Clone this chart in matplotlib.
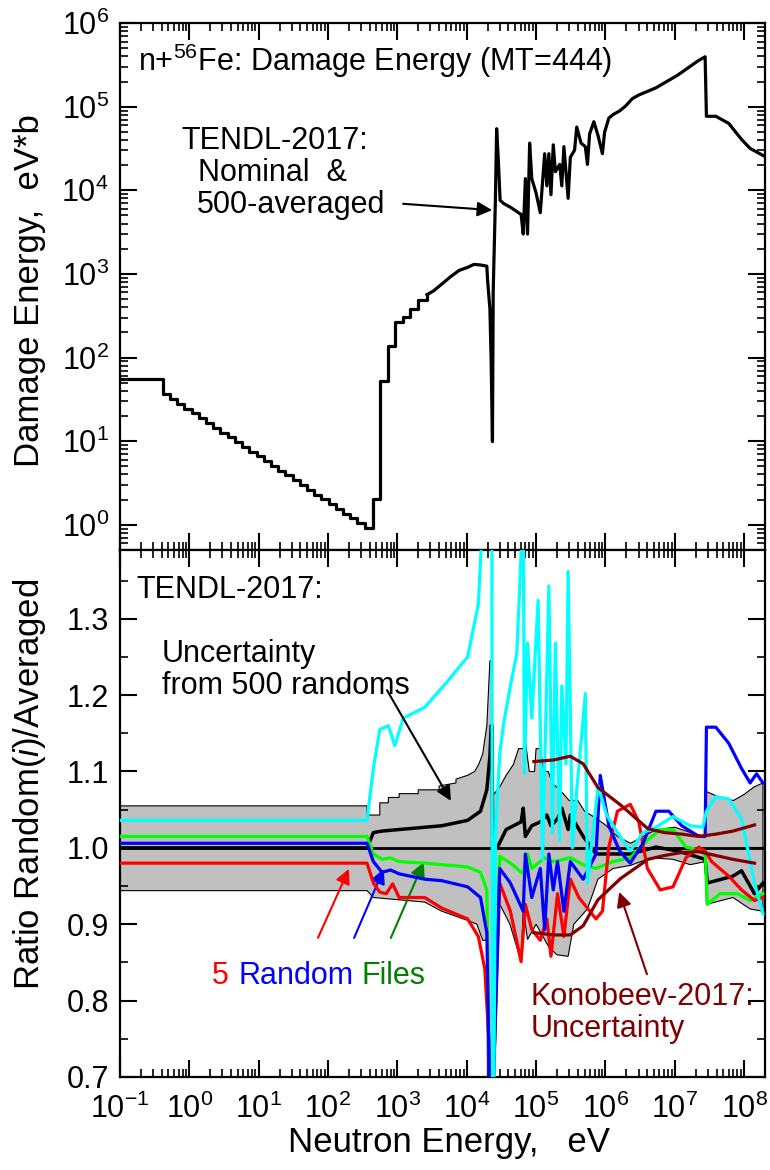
import numpy as np
import matplotlib.pyplot as plt
from matplotlib.ticker import LogLocator, MultipleLocator, NullFormatter

plt.rcParams['font.family'] = ['Liberation Sans', 'DejaVu Sans']
plt.rcParams['mathtext.fontset'] = 'custom'
plt.rcParams['mathtext.rm'] = 'Liberation Sans'
plt.rcParams['mathtext.it'] = 'Liberation Sans:italic'

# ---- top panel: damage energy (eV*b), staircase part then pointwise part
stair_E = [0.1, 0.414, 0.526, 0.668, 0.849, 1.08, 1.37, 1.74, 2.21, 2.81, 3.57, 4.54,
           5.77, 7.33, 9.31, 11.8, 15.0, 19.1, 24.3, 30.8, 39.2, 49.8, 63.2, 80.4,
           102, 130, 165, 209, 266, 338, 451, 558, 742, 918, 1220, 1510, 2010, 2670]
stair_D = [54.7, 36.3, 31.8, 27.9, 24.5, 21.5, 18.8, 16.5, 14.5, 12.7, 11.1, 9.8,
           8.6, 7.5, 6.6, 5.8, 5.1, 4.45, 3.9, 3.4, 3.0, 2.63, 2.3, 2.02,
           1.77, 1.56, 1.36, 1.20, 1.05, 0.92, 2.05, 52, 136, 263, 309, 383, 487, 566]

dam_E = [2670, 3300, 4390, 5830, 7740, 10300, 12700, 15800, 19500, 20000, 21600, 22500,
         23500, 24100, 25900, 27000, 28600, 30300, 34400, 42600, 60800, 65300, 70100,
         75300, 80800, 86700, 1.0e5, 1.15e5, 1.33e5, 1.43e5, 1.53e5, 1.64e5, 1.77e5,
         1.90e5, 2.19e5, 2.35e5, 2.52e5, 2.90e5, 3.12e5, 3.59e5, 3.86e5, 4.45e5,
         5.13e5, 5.51e5, 5.91e5, 6.81e5, 7.85e5, 9.05e5, 9.72e5, 1.12e6, 1.29e6,
         1.60e6, 1.98e6, 2.45e6, 3.03e6, 5.35e6, 1.09e7, 2.22e7, 2.74e7, 2.86e7,
         3.91e7, 6.00e7, 9.18e7, 1.22e8, 1.87e8]
dam_D = [566, 624, 759, 925, 1100, 1200, 1300, 1280, 1240, 838, 382, 92,
         9.9, 624, 7600, 54500, 22500, 7600, 6920, 6280, 5150, 3000, 13800,
         3000, 36700, 13800, 9290, 5400, 27400, 11300, 27400, 8850, 35000,
         16700, 20400, 11300, 33300, 8020, 24800, 30200, 57100, 36700,
         33300, 20400, 47000, 66200, 44700, 27400, 49300, 73100, 80500,
         88900, 1.03e5, 1.25e5, 1.38e5, 1.68e5, 2.37e5, 3.58e5, 3.95e5, 76800,
         76800, 63100, 40600, 31700, 26100]

# ---- bottom panel: ratios random(i)/averaged
band_up_E = [0.1, 365, 365, 558, 558, 742, 742, 1060, 1060, 2000, 2000, 4000, 4000, 7000,
             7000, 10300, 13000, 15000, 17000, 19500, 21600, 23300, 23400, 24500, 30000,
             37000, 47000, 56000, 65000, 70000, 80000, 95000, 1.0e5, 1.15e5, 1.3e5,
             1.5e5, 1.7e5, 2.2e5, 3e5, 4e5, 5e5, 7e5, 1e6, 1.5e6, 2.3e6, 3.5e6, 5.4e6,
             1e7, 1.7e7, 2.74e7, 2.8e7, 4.5e7, 7e7, 1e8, 1.4e8, 1.87e8]
band_up = [1.055, 1.055, 1.043, 1.043, 1.059, 1.059, 1.066, 1.066, 1.071, 1.071, 1.076,
           1.076, 1.081, 1.085, 1.090, 1.095, 1.100, 1.110, 1.123, 1.160, 1.245, 1.245,
           1.07, 1.07, 1.08, 1.095, 1.109, 1.13, 1.13, 1.14, 1.10, 1.10, 1.13, 1.13,
           1.10, 1.10, 1.085, 1.076, 1.062, 1.062, 1.048, 1.04, 1.03, 1.015, 1.006,
           1.015, 1.024, 1.027, 1.020, 1.015, 1.074, 1.066, 1.062, 1.070, 1.080, 1.085]
band_lo_E = [0.1, 365, 451, 1060, 2480, 4390, 10300, 14000, 17000, 19500, 20000, 24000,
             24500, 30000, 42000, 60800, 65300, 75300, 1.0e5, 1.53e5, 2.0e5, 2.9e5,
             3.5e5, 5.5e5, 7.8e5, 1.29e6, 2.28e6, 4.6e6, 9.45e6, 1.67e7, 2.74e7, 2.86e7,
             6.9e7, 1.22e8, 1.87e8]
band_lo = [0.944, 0.944, 0.935, 0.932, 0.929, 0.917, 0.905, 0.900, 0.879, 0.879, 0.65,
           0.65, 0.926, 0.926, 0.900, 0.851, 0.920, 0.880, 0.900, 0.870, 0.860, 0.858,
           0.900, 0.920, 0.959, 0.973, 0.977, 0.987, 0.985, 0.978, 0.982, 0.926,
           0.935, 0.920, 0.917]

mean_E = [0.1, 365, 451, 600, 1060, 4390, 10300, 15800, 19500, 21600, 22500, 23300,
          23600, 27800, 37000, 60800, 65300, 70100, 86700, 1.15e5, 1.43e5, 1.64e5,
          2.04e5, 2.35e5, 2.9e5, 3.12e5, 4.78e5, 7.31e5, 1.29e6, 2.28e6, 5.35e6,
          1.09e7, 2.74e7, 2.95e7, 6.9e7, 9.18e7, 1.41e8, 1.87e8]
mean_r = [1.0, 1.0, 1.020, 1.022, 1.024, 1.029, 1.036, 1.048, 1.076, 1.12, 1.16, 1.16,
          1.0, 1.001, 1.024, 1.034, 1.052, 1.015, 1.029, 1.034, 1.043, 1.029,
          1.038, 1.052, 1.024, 1.043, 1.015, 0.992, 0.992, 0.992, 1.001,
          0.996, 0.985, 0.954, 0.963, 0.970, 0.940, 0.954]

red_E = [0.1, 365, 451, 558, 692, 855, 1060, 2480, 4390, 10300, 14700, 18200, 20900,
         21600, 23500, 29900, 42600, 60800, 70100, 86700, 1.15e5, 1.43e5, 1.64e5,
         2.04e5, 2.52e5, 3.12e5, 4.14e5, 5.51e5, 7.31e5, 9.05e5, 1.12e6, 1.49e6,
         2.28e6, 3.03e6, 4.03e6, 6.17e6, 9.45e6, 1.45e7, 2.22e7, 2.74e7, 3.40e7,
         6.00e7, 9.18e7, 1.41e8, 1.87e8]
red_r = [0.980, 0.980, 0.954, 0.942, 0.940, 0.953, 0.935, 0.935, 0.921, 0.907, 0.884,
         0.842, 0.748, 0.65, 0.65, 0.954, 0.917, 0.851, 0.926, 0.893, 0.879, 0.907,
         0.858, 0.940, 0.884, 0.959, 0.935, 0.921, 0.907, 0.917, 1.001, 1.048,
         1.057, 1.034, 0.973, 0.945, 0.949, 0.987, 1.001, 0.996, 0.982,
         0.963, 0.945, 0.931, 0.935]

blue_E = [0.1, 365, 451, 600, 797, 1060, 2480, 4390, 10300, 15800, 19500, 21600, 23500,
          29900, 42600, 65300, 70100, 86700, 1.15e5, 1.33e5, 1.53e5, 1.77e5, 2.04e5,
          2.52e5, 3.12e5, 4.78e5, 7.31e5, 8.43e5, 1.12e6, 1.60e6, 2.28e6, 3.49e6,
          5.35e6, 8.20e6, 1.26e7, 2.22e7, 2.74e7, 2.86e7, 3.91e7, 6.00e7, 9.18e7,
          1.22e8, 1.51e8, 1.87e8]
blue_r = [1.006, 1.006, 0.982, 0.968, 0.971, 0.966, 0.959, 0.957, 0.949, 0.935, 0.889,
          0.65, 0.65, 0.973, 0.954, 0.917, 0.992, 0.935, 0.973, 0.893, 0.992, 0.945,
          0.982, 0.917, 0.982, 0.959, 0.992, 1.095, 1.029, 0.996, 0.980, 1.006,
          1.048, 1.048, 1.029, 1.015, 1.015, 1.158, 1.158, 1.137, 1.104,
          1.085, 1.097, 1.085]

green_E = [0.1, 365, 451, 600, 797, 1060, 2480, 10300, 15800, 19500, 21600, 23500,
           29900, 42600, 65300, 75300, 86700, 1.33e5, 1.77e5, 3.12e5, 4.78e5, 7.31e5,
           1.29e6, 2.28e6, 4.03e6, 6.17e6, 9.45e6, 1.45e7, 2.74e7, 2.95e7, 4.51e7,
           7.97e7, 1.22e8, 1.87e8]
green_r = [1.015, 1.015, 0.992, 0.985, 0.987, 0.982, 0.980, 0.975, 0.968, 0.945, 0.65,
           0.65, 0.989, 0.980, 0.966, 0.992, 0.973, 0.987, 0.982, 0.987, 0.978, 0.973,
           0.982, 0.987, 1.010, 1.024, 1.024, 1.001, 0.996, 0.926, 0.940,
           0.940, 0.931, 0.940]

cyan_E = [0.1, 365, 451, 558, 742, 918, 1220, 2480, 5060, 10300, 14700, 17400, 23000,
          23600, 24500, 26000, 29900, 34400, 42600, 52700, 65300, 68100, 75300, 86700,
          1.07e5, 1.24e5, 1.53e5, 1.72e5, 1.90e5, 2.19e5, 2.35e5, 2.70e5, 2.90e5,
          3.35e5, 3.86e5, 4.45e5, 5.13e5, 5.51e5, 6.34e5, 7.85e5, 1.04e6, 1.49e6,
          2.28e6, 3.49e6, 5.35e6, 9.45e6, 1.67e7, 2.55e7, 2.86e7, 3.91e7, 6.00e7,
          9.18e7, 1.41e8, 1.87e8]
cyan_r = [1.036, 1.036, 1.104, 1.155, 1.160, 1.134, 1.170, 1.184, 1.216, 1.250, 1.319,
          1.45, 1.45, 0.65, 0.65, 1.016, 1.123, 1.165, 1.212, 1.254, 1.45, 1.097,
          1.268, 1.170, 1.324, 0.985, 1.343, 1.020, 1.268, 1.010, 1.212, 1.110,
          1.362, 1.000, 1.076, 1.137, 1.202, 0.954, 1.006, 1.081, 1.043, 1.020,
          0.996, 1.020, 1.027, 1.041, 1.029, 1.027, 1.048, 1.067, 1.064,
          1.038, 0.954, 0.914]

kon_E = [93100, 1.77e5, 3.12e5, 4.78e5, 7.8e5, 1.66e6, 4.1e6, 7.1e6, 1.26e7, 2.22e7,
         3.91e7, 6.92e7, 1.41e8]
kon_hi = [1.113, 1.115, 1.120, 1.110, 1.079, 1.056, 1.025, 1.020, 1.018, 1.015,
          1.018, 1.022, 1.030]
kon_lo = [0.889, 0.886, 0.886, 0.898, 0.932, 0.960, 0.985, 0.990, 0.994, 0.995,
          0.990, 0.985, 0.980]

fig = plt.figure(figsize=(7.7, 11.7), dpi=100)
ax1 = fig.add_axes([0.1558, 0.5299, 0.8377, 0.4504])
ax2 = fig.add_axes([0.1558, 0.0795, 0.8377, 0.4504], sharex=ax1)

ax1.step(stair_E, stair_D, where='post', color='black', lw=2.3)
ax1.plot(dam_E, dam_D, color='black', lw=2.3)
ax1.set_yscale('log')
ax1.set_ylim(0.5, 1e6)

ax2.fill(np.concatenate([band_up_E, band_lo_E[::-1]]),
         np.concatenate([band_up, band_lo[::-1]]),
         facecolor='#c0c0c0', edgecolor='black', lw=0.8, zorder=1)
ax2.axhline(1.0, color='black', lw=2, zorder=2)
ax2.plot(mean_E, mean_r, color='black', lw=2.5, zorder=3)
ax2.plot(green_E, green_r, color='#00ff00', lw=2.3, zorder=4)
ax2.plot(red_E, red_r, color='#ff0000', lw=2.3, zorder=5)
ax2.plot(blue_E, blue_r, color='#0000ff', lw=2.3, zorder=6)
ax2.plot(cyan_E, cyan_r, color='#00ffff', lw=2.3, zorder=7)
ax2.plot(kon_E, kon_hi, color='#800000', lw=2.3, zorder=8)
ax2.plot(kon_E, kon_lo, color='#800000', lw=2.3, zorder=8)
ax2.set_ylim(0.7, 1.39)
ax2.set_xscale('log')
ax2.set_xlim(0.1, 2e8)

for ax in (ax1, ax2):
    ax.xaxis.set_major_locator(LogLocator(base=10, numticks=15))
    ax.xaxis.set_minor_locator(LogLocator(base=10, subs=np.arange(2, 10), numticks=15))
    ax.xaxis.set_minor_formatter(NullFormatter())
    ax.tick_params(which='both', direction='in', top=True, right=True, labelsize=22)
    ax.tick_params(which='major', length=12, width=1.5)
    ax.tick_params(which='minor', length=6, width=1.2)
    ax.tick_params(axis='x', pad=12)
    ax.tick_params(axis='y', pad=8)
    for s in ax.spines.values():
        s.set_linewidth(1.6)
ax1.tick_params(labelbottom=False)
ax1.yaxis.set_major_locator(LogLocator(base=10, numticks=10))
ax1.yaxis.set_minor_locator(LogLocator(base=10, subs=np.arange(2, 10), numticks=10))
ax1.yaxis.set_minor_formatter(NullFormatter())
ax2.yaxis.set_major_locator(MultipleLocator(0.1))
ax2.yaxis.set_minor_locator(MultipleLocator(0.05))
ax2.set_yticks([0.7, 0.8, 0.9, 1.0, 1.1, 1.2, 1.3])
ax2.set_yticklabels(['0.7', '0.8', '0.9', '1.0', '1.1', '1.2', '1.3'])

ax1.set_ylabel('Damage Energy,  eV*b', fontsize=25, va='center')
ax1.yaxis.set_label_coords(-0.14, 0.493)
ax2.set_ylabel('Ratio Random($\\it{i}$)/Averaged', fontsize=25, va='center')
ax2.yaxis.set_label_coords(-0.14, 0.556)
ax2.set_xlabel('Neutron Energy,   eV', fontsize=25, va='center')
ax2.xaxis.set_label_coords(0.51, -0.125)

fs = 22
ax1.text(0.028, 0.928, 'n+$^{56}$Fe: Damage Energy (MT=444)', transform=ax1.transAxes,
         fontsize=fs, va='center')
ax1.text(0.095, 0.776, 'TENDL-2017:', transform=ax1.transAxes, fontsize=fs, va='center')
ax1.text(0.121, 0.715, 'Nominal  &', transform=ax1.transAxes, fontsize=fs, va='center')
ax1.text(0.119, 0.655, '500-averaged', transform=ax1.transAxes, fontsize=fs, va='center')
arrow = dict(arrowstyle='-|>', lw=1.5, mutation_scale=22, color='black',
             shrinkA=0, shrinkB=0)
ax1.annotate('', xy=(0.577, 0.645), xytext=(0.439, 0.657), xycoords='axes fraction',
             arrowprops=arrow)

ax2.text(0.025, 0.924, 'TENDL-2017:', transform=ax2.transAxes, fontsize=fs, va='center')
ax2.text(0.065, 0.803, 'Uncertainty', transform=ax2.transAxes, fontsize=fs, va='center')
ax2.text(0.065, 0.742, 'from 500 randoms', transform=ax2.transAxes, fontsize=fs,
         va='center')
ax2.annotate('', xy=(0.513, 0.524), xytext=(0.414, 0.734), xycoords='axes fraction',
             arrowprops=arrow, zorder=10)

ax2.text(0.143, 0.192, '5', color='#ff0000', transform=ax2.transAxes, fontsize=fs,
         va='center')
ax2.text(0.184, 0.192, 'Random', color='#0000ff', transform=ax2.transAxes, fontsize=fs,
         va='center')
ax2.text(0.374, 0.192, 'Files', color='#008000', transform=ax2.transAxes, fontsize=fs,
         va='center')
for c, p0, p1 in [('#ff0000', (0.307, 0.264), (0.355, 0.395)),
                  ('#0000ff', (0.363, 0.264), (0.409, 0.395)),
                  ('#008000', (0.420, 0.264), (0.471, 0.408))]:
    ax2.annotate('', xy=p1, xytext=p0, xycoords='axes fraction',
                 arrowprops=dict(arrowstyle='-|>', lw=1.5, mutation_scale=22, color=c,
                                 shrinkA=0, shrinkB=0))

ax2.text(0.637, 0.152, 'Konobeev-2017:', color='#800000', transform=ax2.transAxes,
         fontsize=fs, va='center')
ax2.text(0.637, 0.091, 'Uncertainty', color='#800000', transform=ax2.transAxes,
         fontsize=fs, va='center')
ax2.annotate('', xy=(0.774, 0.351), xytext=(0.817, 0.195), xycoords='axes fraction',
             arrowprops=dict(arrowstyle='-|>', lw=1.5, mutation_scale=22, color='#800000',
                             shrinkA=0, shrinkB=0))

fig.savefig('out.png', dpi=100)
